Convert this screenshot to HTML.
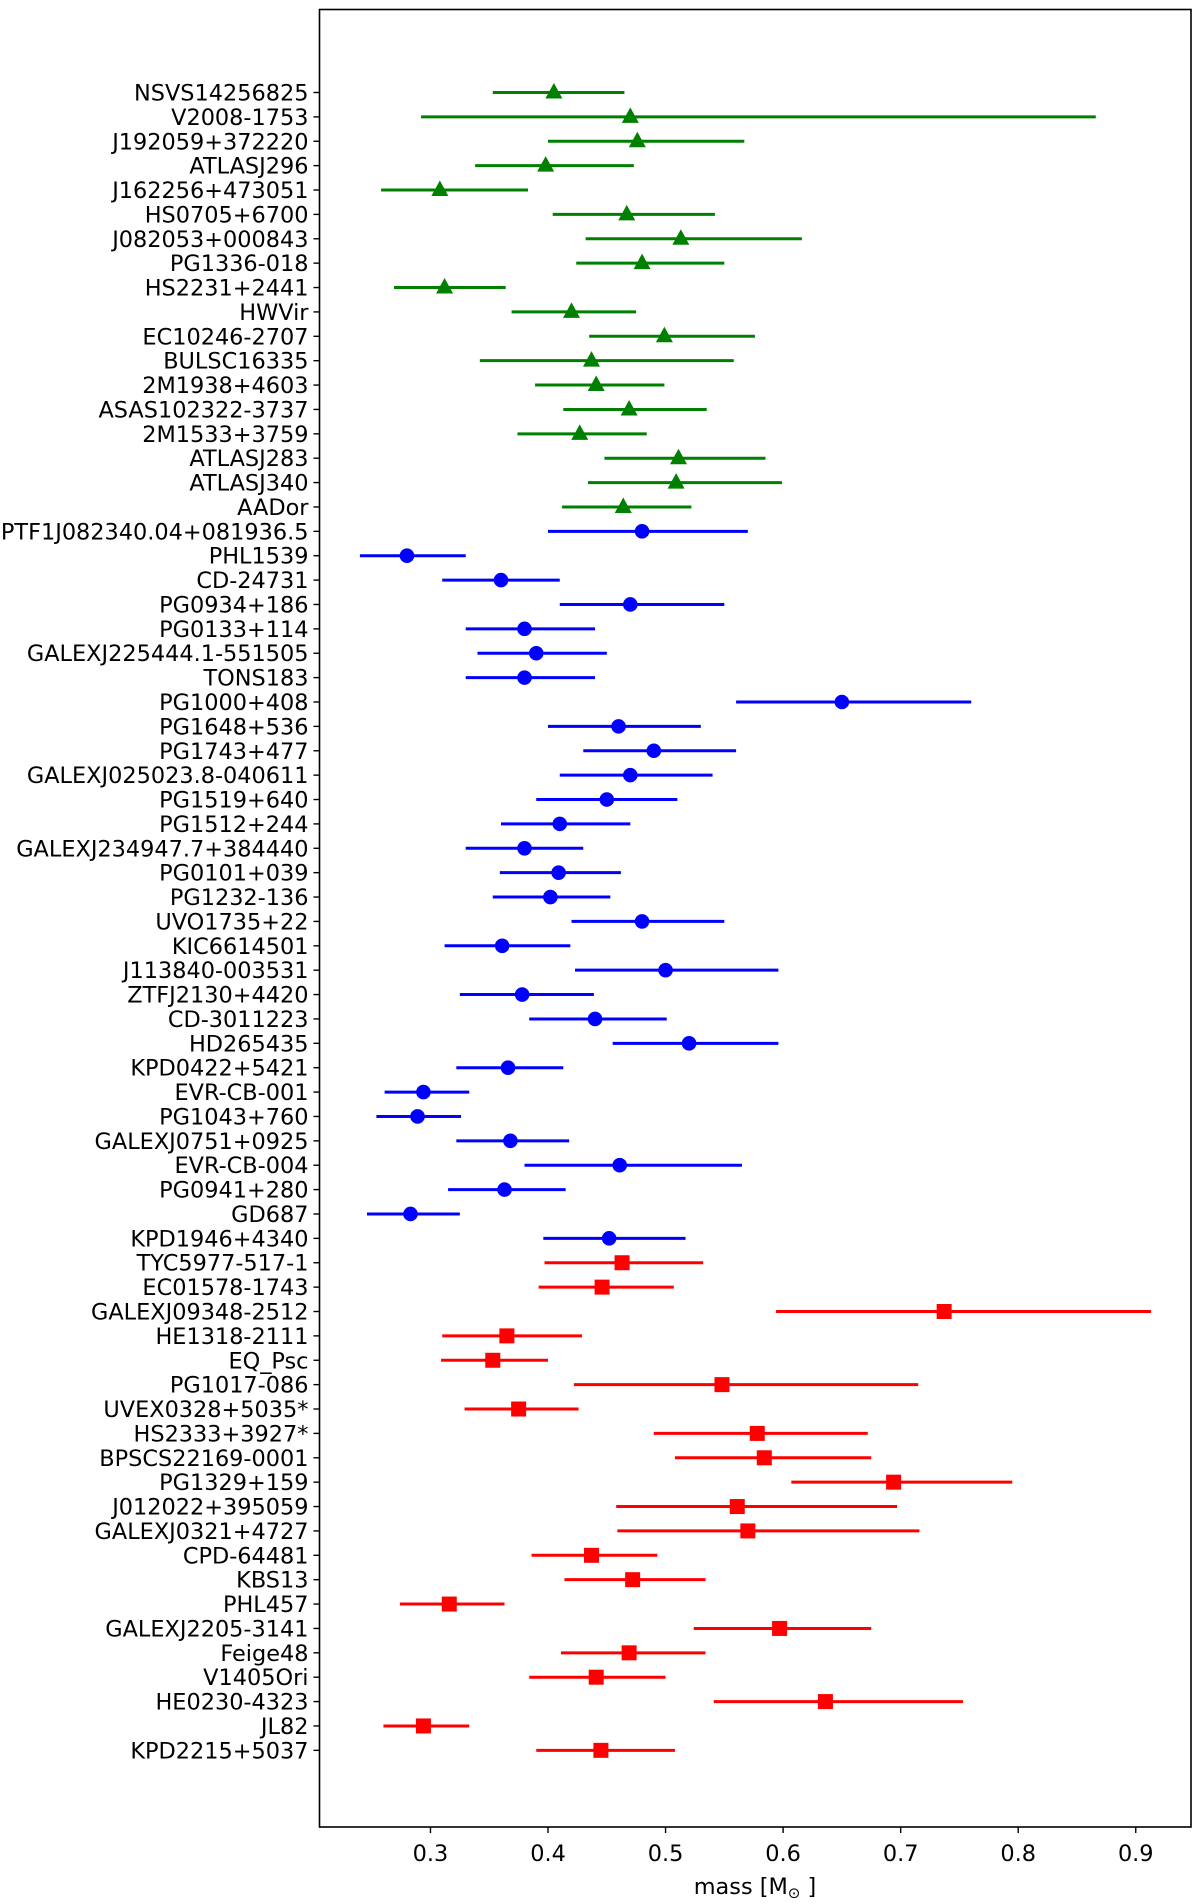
<!DOCTYPE html>
<html><head><meta charset="utf-8"><style>
html,body{margin:0;padding:0;background:#fff;}
svg text{font-family:"DejaVu Sans","Liberation Sans",sans-serif;font-size:22.4px;fill:#000;}
</style></head><body>
<svg id="chart" width="1200" height="1899" xmlns="http://www.w3.org/2000/svg">
<rect x="319.5" y="9.5" width="871.5" height="1817.5" fill="#fff" stroke="none"/>
<g id="marks"></g>
<g id="yaxis"></g>
<g id="xaxis"></g>
<rect x="319.5" y="9.5" width="871.5" height="1817.5" fill="none" stroke="#000" stroke-width="1.6"/>
<text x="755" y="1894" text-anchor="middle">mass [M<tspan font-size="15" dy="4">⊙</tspan><tspan dy="-4"> ]</tspan></text>
</svg>
<script>
const names = ["NSVS14256825","V2008-1753","J192059+372220","ATLASJ296","J162256+473051","HS0705+6700","J082053+000843","PG1336-018","HS2231+2441","HWVir","EC10246-2707","BULSC16335","2M1938+4603","ASAS102322-3737","2M1533+3759","ATLASJ283","ATLASJ340","AADor",
"PTF1J082340.04+081936.5","PHL1539","CD-24731","PG0934+186","PG0133+114","GALEXJ225444.1-551505","TONS183","PG1000+408","PG1648+536","PG1743+477","GALEXJ025023.8-040611","PG1519+640","PG1512+244","GALEXJ234947.7+384440","PG0101+039","PG1232-136","UVO1735+22","KIC6614501","J113840-003531","ZTFJ2130+4420","CD-3011223","HD265435","KPD0422+5421","EVR-CB-001","PG1043+760","GALEXJ0751+0925","EVR-CB-004","PG0941+280","GD687","KPD1946+4340",
"TYC5977-517-1","EC01578-1743","GALEXJ09348-2512","HE1318-2111","EQ_Psc","PG1017-086","UVEX0328+5035*","HS2333+3927*","BPSCS22169-0001","PG1329+159","J012022+395059","GALEXJ0321+4727","CPD-64481","KBS13","PHL457","GALEXJ2205-3141","Feige48","V1405Ori","HE0230-4323","JL82","KPD2215+5037"];
const groups = ["g","g","g","g","g","g","g","g","g","g","g","g","g","g","g","g","g","g",
"b","b","b","b","b","b","b","b","b","b","b","b","b","b","b","b","b","b","b","b","b","b","b","b","b","b","b","b","b","b",
"r","r","r","r","r","r","r","r","r","r","r","r","r","r","r","r","r","r","r","r","r"];
const mass = [0.405,0.47,0.476,0.398,0.308,0.467,0.513,0.480,0.312,0.420,0.499,0.437,0.441,0.469,0.427,0.511,0.509,0.464,
0.48,0.28,0.36,0.47,0.38,0.39,0.38,0.65,0.46,0.49,0.47,0.45,0.41,0.38,0.409,0.402,0.48,0.361,0.50,0.378,0.44,0.52,0.366,0.294,0.289,0.368,0.461,0.363,0.283,0.452,
0.463,0.446,0.737,0.365,0.353,0.548,0.375,0.578,0.584,0.694,0.561,0.57,0.437,0.472,0.316,0.597,0.469,0.441,0.636,0.294,0.445];
const lower = [0.353,0.292,0.40,0.338,0.258,0.404,0.432,0.424,0.269,0.369,0.435,0.342,0.389,0.413,0.374,0.448,0.434,0.412,
0.40,0.24,0.31,0.41,0.33,0.34,0.33,0.56,0.40,0.43,0.41,0.39,0.36,0.33,0.359,0.353,0.42,0.312,0.423,0.325,0.384,0.455,0.322,0.261,0.254,0.322,0.38,0.315,0.246,0.396,
0.397,0.392,0.594,0.31,0.309,0.422,0.329,0.49,0.508,0.607,0.458,0.459,0.386,0.414,0.274,0.524,0.411,0.384,0.541,0.26,0.39];
const upper = [0.465,0.866,0.567,0.473,0.383,0.542,0.616,0.550,0.364,0.475,0.576,0.558,0.499,0.535,0.484,0.585,0.599,0.522,
0.57,0.33,0.41,0.55,0.44,0.45,0.44,0.76,0.53,0.56,0.54,0.51,0.47,0.43,0.462,0.453,0.55,0.419,0.596,0.439,0.501,0.596,0.413,0.333,0.326,0.418,0.565,0.415,0.325,0.517,
0.532,0.507,0.913,0.429,0.40,0.715,0.426,0.672,0.675,0.795,0.697,0.716,0.493,0.534,0.363,0.675,0.534,0.50,0.753,0.333,0.508];
const xTicks = [0.3,0.4,0.5,0.6,0.7,0.8,0.9];
const xTickLabels = ["0.3","0.4","0.5","0.6","0.7","0.8","0.9"];

const NS="http://www.w3.org/2000/svg";
const X0=319.5,X1=1191,Y0=9.5,Y1=1827;
const xmin=0.2056,xmax=0.947;
function xs(v){return X0+(v-xmin)/(xmax-xmin)*(X1-X0);}
const rowTop=92.5, rowStep=24.38;
function ys(i){return rowTop+i*rowStep;}
const colors={g:"#008000",b:"#0000ff",r:"#ff0000"};
function mk(tag,attrs,parent){const e=document.createElementNS(NS,tag);for(const k in attrs)e.setAttribute(k,attrs[k]);parent.appendChild(e);return e;}
const marks=document.getElementById('marks'),yax=document.getElementById('yaxis'),xax=document.getElementById('xaxis');
names.forEach((n,i)=>{
  const y=ys(i),c=colors[groups[i]];
  const t=mk('line',{x1:X0,x2:X0-6,y1:y,y2:y,stroke:'#000','stroke-width':1.4},yax);
  
  
  const lb=mk('text',{x:X0-11,y:y+8,'text-anchor':'end'},yax);
  lb.textContent=n;
  
  
  const eb=mk('line',{x1:xs(lower[i]),x2:xs(upper[i]),y1:y,y2:y,stroke:c,'stroke-width':3},marks);
  
  
  const cx=xs(mass[i]);
  let m;
  if(groups[i]==='g'){m=mk('polygon',{points:`${cx},${y-9.5} ${cx-8.5},${y+6} ${cx+8.5},${y+6}`,fill:c},marks);}
  else if(groups[i]==='b'){m=mk('circle',{cx:cx,cy:y,r:7.3,fill:c},marks);}
  else {m=mk('rect',{x:cx-7.5,y:y-7.5,width:15,height:15,fill:c},marks);}
  
  
});
xTicks.forEach((v,k)=>{
  const x=xs(v);
  const t=mk('line',{x1:x,x2:x,y1:Y1,y2:Y1+6,stroke:'#000','stroke-width':1.4},xax);
  
  
  const lb=mk('text',{x:x,y:1861,'text-anchor':'middle'},xax);
  lb.textContent=xTickLabels[k];
  
  
});
</script>
</body></html>
